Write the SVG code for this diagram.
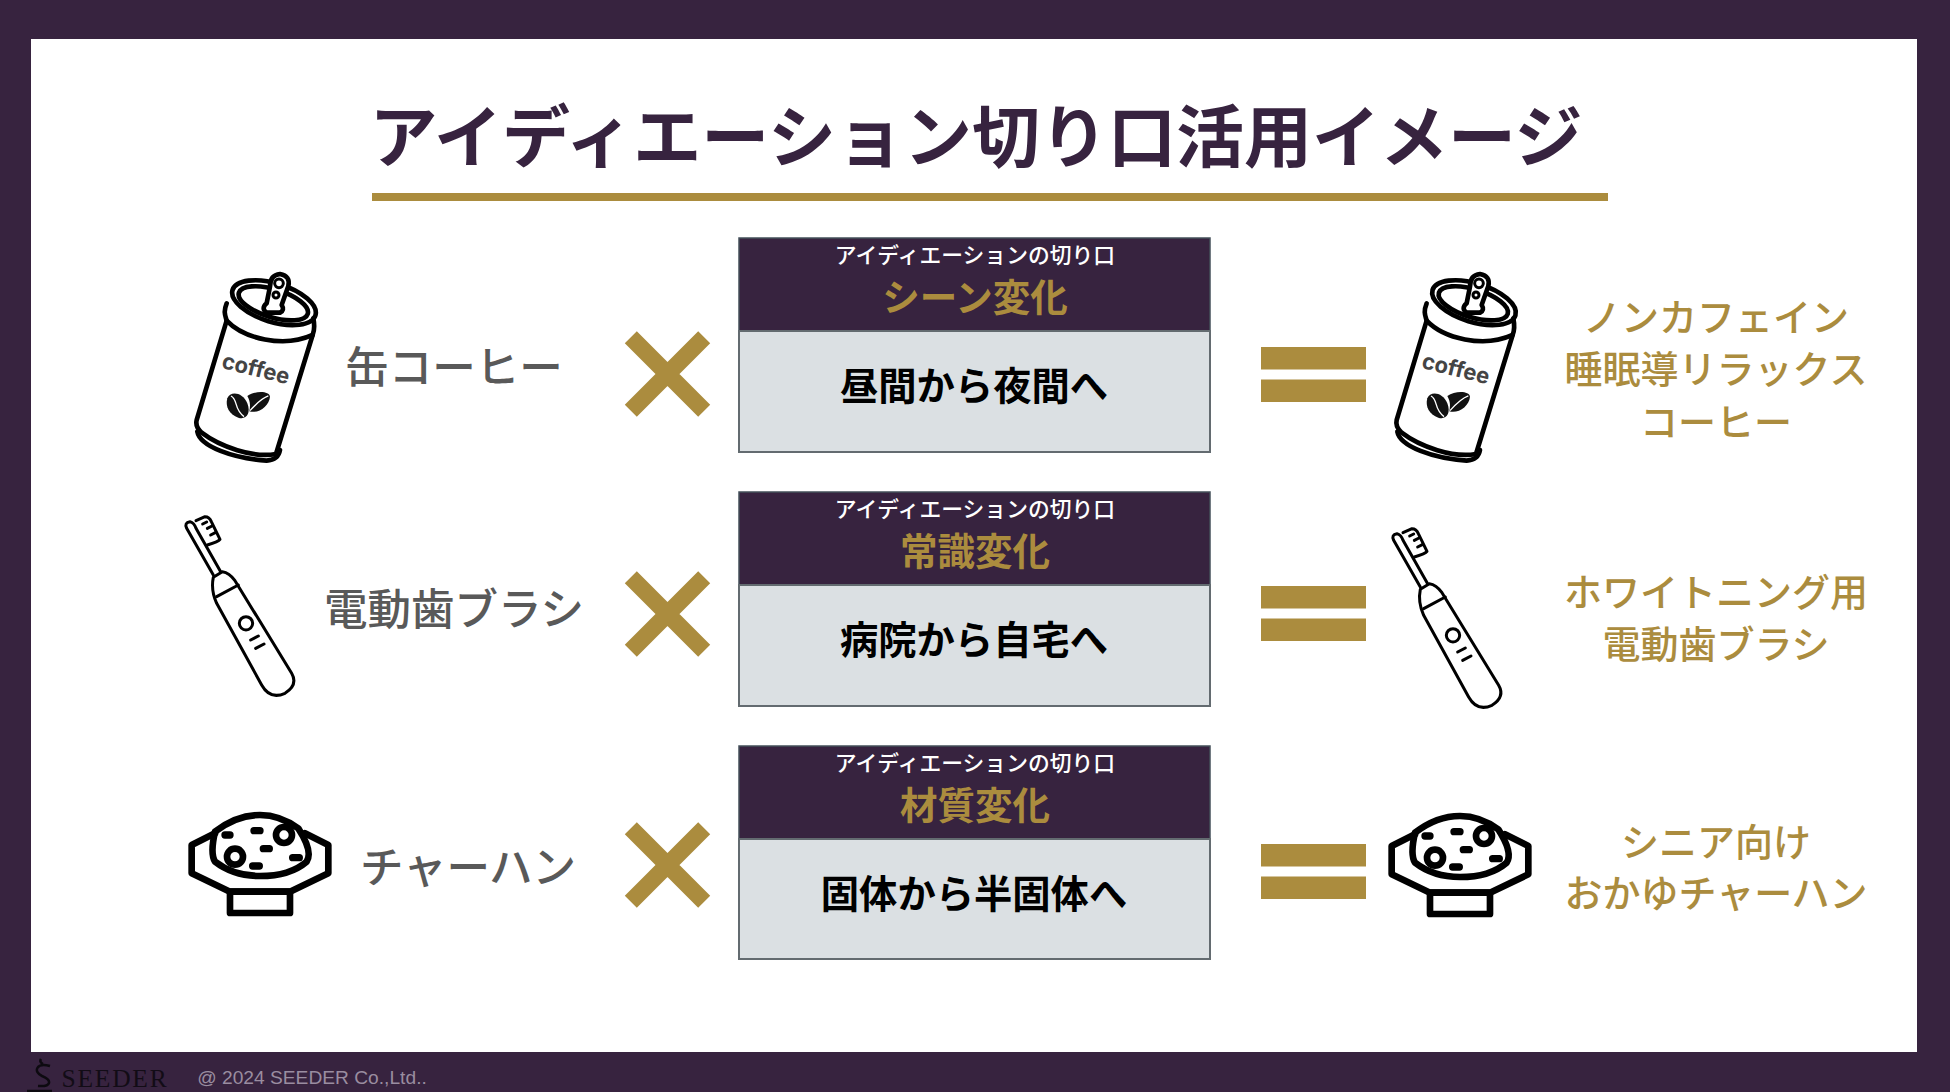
<svg xmlns="http://www.w3.org/2000/svg" xmlns:xlink="http://www.w3.org/1999/xlink" width="1950" height="1092" viewBox="0 0 1950 1092">
<style>
text{font-family:"Noto Sans CJK JP","Liberation Serif",serif;text-anchor:middle;dominant-baseline:central}
.title{font-size:68px;font-weight:700;fill:#37233f}
.item{font-size:43.5px;font-weight:500;fill:#595959}
.res{font-size:38px;font-weight:500;fill:#ab8c3e}
.sm{font-size:21.8px;font-weight:500;fill:#fff}
.hd{font-size:37.5px;font-weight:700;fill:#ab8c3e}
.bd{font-size:38.3px;font-weight:700;fill:#000}
.head{fill:#37233f;stroke:#44505a;stroke-width:1.5}
.body{fill:#dbe0e3;stroke:#636b70;stroke-width:2}
.gold{fill:#ab8c3e}
.x{stroke:#ab8c3e;stroke-width:17;fill:none}
.ic{fill:none;stroke:#000;stroke-linecap:round;stroke-linejoin:round}
</style>
<defs>
<g id="can" transform="translate(170 250) scale(.3333)">
<g class="ic" stroke-width="14">
<path d="M170 160 C160 185 165 195 170 212 L80 510 Q75 530 95 548 C150 590 250 625 318 612 L428 255 Q436 235 430 205"/>
<path d="M170 212 C220 265 340 295 428 255"/>
<path d="M82 545 C90 590 190 625 290 632 Q325 630 330 600"/>
<ellipse cx="312" cy="158" rx="130" ry="58" transform="rotate(17 312 158)"/>
<ellipse cx="310" cy="160" rx="108" ry="42" transform="rotate(17 310 160)"/>
<path fill="#fff" d="M300 110 Q300 75 330 72 Q362 78 355 108 L335 165 Q345 180 330 188 H290 Q272 175 290 160 Z"/>
<circle cx="327" cy="100" r="13" stroke-width="9"/>
<circle cx="318" cy="135" r="9" stroke-width="9"/>
</g>
<text x="258" y="355" transform="rotate(14 258 355)" style="font-family:Inter,'Liberation Sans',sans-serif;font-size:66px;font-weight:700;fill:#444">coffee</text>
<path fill="#111" d="M172 445 C180 422 218 425 232 460 C244 492 228 510 205 503 C178 494 165 470 172 445Z"/>
<path fill="#111" d="M232 438 C255 422 298 422 300 440 C298 468 265 492 238 484 C243 460 238 450 232 438Z"/>
<path fill="none" stroke="#fff" stroke-width="4" d="M183 438 C205 450 190 475 222 500 M295 438 C275 445 260 460 240 482"/>
</g>
<g id="brush" transform="translate(170 500) scale(.3333)">
<g class="ic" stroke-width="9">
<path d="M130 232 L157 215 Q178 218 195 242 L365 520 Q385 555 345 580 Q300 600 275 555 L140 310 Q122 270 130 232 Z"/>
<path d="M140 290 L205 255"/>
<path d="M130 225 L50 85 Q42 68 60 65 Q72 68 78 85 L152 215"/>
<path d="M78 62 L105 50 Q118 50 124 65 L150 118 Q145 125 112 135"/>
<path d="M112 85 L126 78 M122 105 L136 98 M98 72 L110 66"/>
<circle cx="228" cy="370" r="20"/>
<path d="M242 420 L265 408 M257 445 L282 432"/>
</g>
</g>
<g id="bowl" transform="translate(170 790) scale(.3333)">
<g class="ic" stroke-width="20">
<path d="M135 130 L65 165 V250 L180 305 H360 L475 250 V165 L405 130"/>
<rect x="180" y="305" width="180" height="64"/>
<path d="M135 125 Q120 190 135 215 Q190 258 270 258 Q360 258 410 215 Q430 185 385 115 Q330 75 270 75 Q200 75 135 125Z"/>
<circle cx="195" cy="200" r="24"/>
<circle cx="342" cy="135" r="24"/>
<path stroke-width="22" d="M165 135 H180 M252 122 H270 M280 176 H298 M248 228 H268 M368 203 H388"/>
</g>
</g>
<g id="cross"><path class="x" d="M-36.7 -36.7 L36.7 36.7 M36.7 -36.7 L-36.7 36.7"/></g>
<g id="equal"><rect class="gold" x="1261" y="0" width="105" height="22.5"/><rect class="gold" x="1261" y="32.5" width="105" height="22.5"/></g>
</defs>
<rect id="frame" width="1950" height="1092" fill="#37233f"/>
<rect id="slide" x="31" y="39" width="1886" height="1013" fill="#fff"/>
<g id="title">
<text class="title" x="976" y="132">アイディエーション切り口活用イメージ</text>
<rect class="gold" x="372" y="193" width="1236" height="8"/>
</g>
<g id="row1">
<use xlink:href="#can" href="#can"/>
<text class="item" x="454" y="364">缶コーヒー</text>
<use xlink:href="#cross" href="#cross" x="667.5" y="374"/>
<g id="card1"><rect class="head" x="739" y="238" width="471" height="93"/><rect class="body" x="739" y="331" width="471" height="121"/>
<text class="sm" x="975" y="253.5">アイディエーションの切り口</text><text class="hd" x="975" y="294">シーン変化</text><text class="bd" x="974" y="383">昼間から夜間へ</text></g>
<use xlink:href="#equal" href="#equal" y="347"/>
<use xlink:href="#can" href="#can" x="1200"/>
<g id="result1"><text class="res" x="1716" y="314">ノンカフェイン</text><text class="res" x="1716" y="366">睡眠導リラックス</text><text class="res" x="1716" y="419">コーヒー</text></g>
</g>
<g id="row2">
<use xlink:href="#brush" href="#brush"/>
<text class="item" x="454" y="606">電動歯ブラシ</text>
<use xlink:href="#cross" href="#cross" x="667.5" y="614"/>
<g id="card2"><rect class="head" x="739" y="492" width="471" height="93"/><rect class="body" x="739" y="585" width="471" height="121"/>
<text class="sm" x="975" y="507.5">アイディエーションの切り口</text><text class="hd" x="975" y="548">常識変化</text><text class="bd" x="974" y="637">病院から自宅へ</text></g>
<use xlink:href="#equal" href="#equal" y="586"/>
<use xlink:href="#brush" href="#brush" x="1207" y="12"/>
<g id="result2"><text class="res" x="1716" y="589">ホワイトニング用</text><text class="res" x="1716" y="641">電動歯ブラシ</text></g>
</g>
<g id="row3">
<use xlink:href="#bowl" href="#bowl"/>
<text class="item" x="468" y="864">チャーハン</text>
<use xlink:href="#cross" href="#cross" x="667.5" y="865"/>
<g id="card3"><rect class="head" x="739" y="746" width="471" height="93"/><rect class="body" x="739" y="839" width="471" height="120"/>
<text class="sm" x="975" y="761.5">アイディエーションの切り口</text><text class="hd" x="975" y="802">材質変化</text><text class="bd" x="974" y="891">固体から半固体へ</text></g>
<use xlink:href="#equal" href="#equal" y="844"/>
<use xlink:href="#bowl" href="#bowl" x="1200" y="1"/>
<g id="result3"><text class="res" x="1716" y="839">シニア向け</text><text class="res" x="1716" y="890">おかゆチャーハン</text></g>
</g>
<g id="footer">
<path fill="none" stroke="#0d0a10" stroke-width="2.5" d="M41 1059 q-2 3 2 5 M50 1066 C36 1062 33 1072 42 1076 C52 1080 52 1087 38 1086 M27 1091 H52"/>
<text x="115" y="1078" style="font-family:'Liberation Serif',serif;font-size:25.5px;letter-spacing:1.8px;fill:#120c16">SEEDER</text>
<text x="312" y="1077" style="font-family:'Liberation Sans',sans-serif;font-size:19.2px;fill:#9a8da0">@ 2024 SEEDER Co.,Ltd..</text>
</g>
</svg>
